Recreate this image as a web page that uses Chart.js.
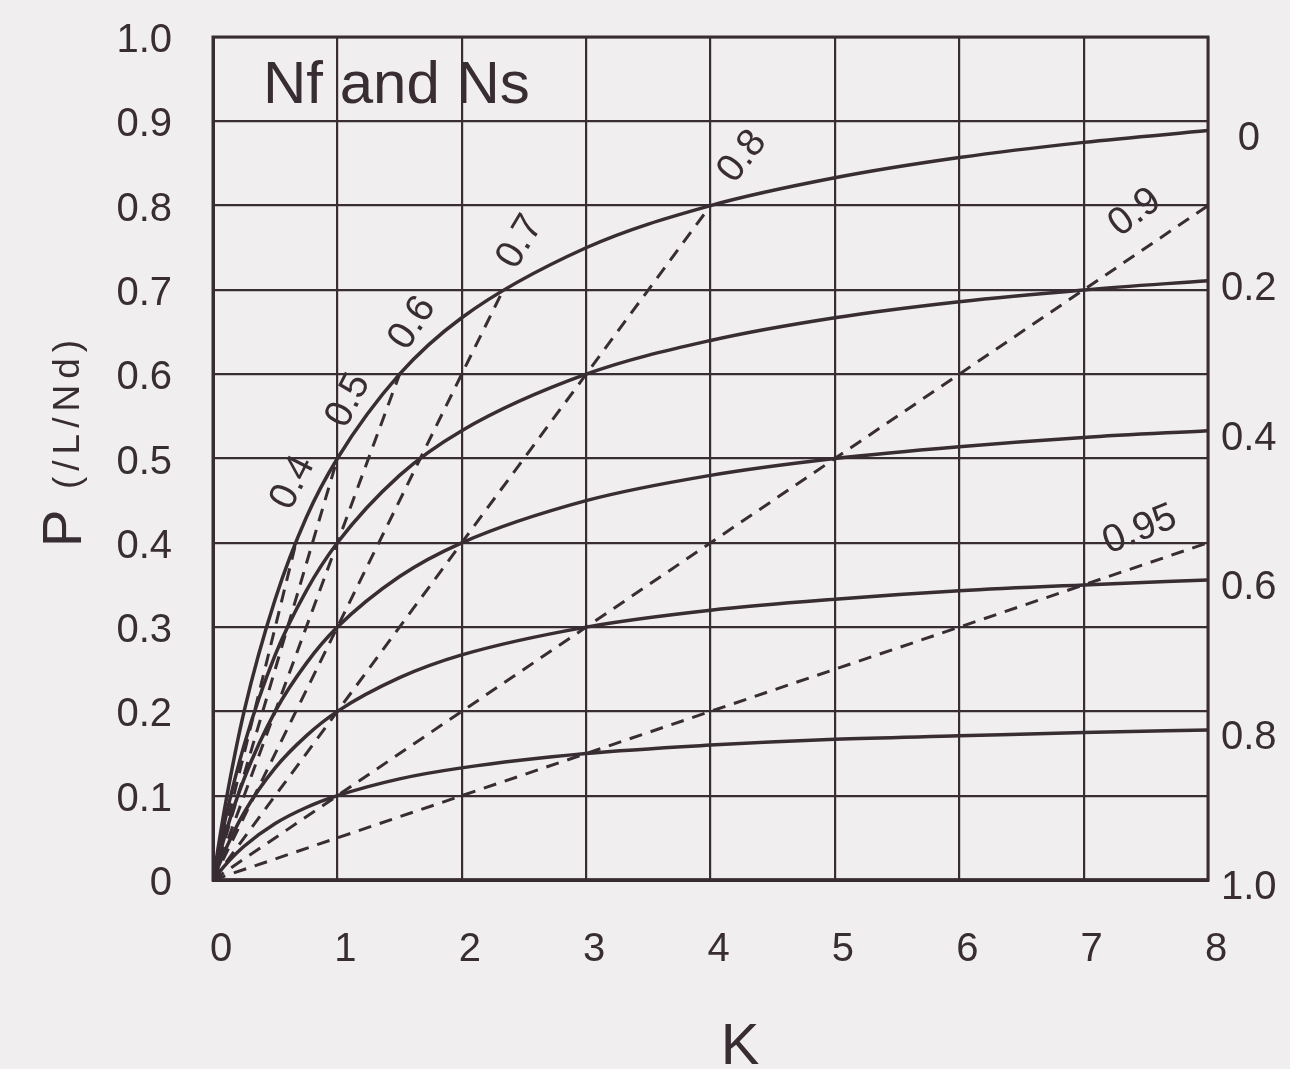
<!DOCTYPE html>
<html>
<head>
<meta charset="utf-8">
<script src="https://cdn.jsdelivr.net/npm/chart.js@4.4.1/dist/chart.umd.min.js"></script>
<style>
  html, body { margin: 0; padding: 0; background: #f0eeee; }
  #c { display: block; }
</style>
</head>
<body>
<canvas id="c" width="1290" height="1069"></canvas>
<script>
// ---------- data ----------
const kValues = [0, 0.1, 0.25, 0.5, 0.75, 1, 1.5, 2, 3, 4, 5, 6, 7, 8];

// solid curves, labelled on the right side (Ns/Nd)
const curveNames = ['0', '0.2', '0.4', '0.6', '0.8', '1.0'];
const curve0  = [0, 0.090, 0.200, 0.333, 0.430, 0.500, 0.600, 0.667, 0.750, 0.800, 0.833, 0.857, 0.875, 0.889];
const curve02 = [0, 0.073, 0.160, 0.267, 0.343, 0.400, 0.480, 0.533, 0.600, 0.640, 0.667, 0.686, 0.700, 0.711];
const curve04 = [0, 0.055, 0.120, 0.200, 0.257, 0.300, 0.360, 0.400, 0.450, 0.480, 0.500, 0.514, 0.525, 0.533];
const curve06 = [0, 0.036, 0.080, 0.133, 0.171, 0.200, 0.240, 0.267, 0.300, 0.320, 0.333, 0.343, 0.350, 0.356];
const curve08 = [0, 0.018, 0.040, 0.067, 0.086, 0.100, 0.120, 0.133, 0.150, 0.160, 0.167, 0.171, 0.175, 0.178];
const curve10 = [0, 0, 0, 0, 0, 0, 0, 0, 0, 0, 0, 0, 0, 0];
const curveValues = [curve0, curve02, curve04, curve06, curve08, curve10];

// dashed straight lines from the origin (Nf labels)
const dashNames = ['0.4', '0.5', '0.6', '0.7', '0.8', '0.9', '0.95'];
const dashEndK  = [0.667, 1, 1.5, 2.333, 4, 8, 8];
const dashEndP  = [0.4, 0.5, 0.6, 0.7, 0.8, 0.8, 0.4];

// tick labels
const xTickLabels = ['0', '1', '2', '3', '4', '5', '6', '7', '8'];
const yTickLabels = ['0', '0.1', '0.2', '0.3', '0.4', '0.5', '0.6', '0.7', '0.8', '0.9', '1.0'];

// texts
const chartTitle = 'Nf and Ns';
const xTitle = 'K';
const yTitleMain = 'P';
const yTitleUnit = '(/L/Nd)';

// ---------- styles ----------
const BG = '#f0eeee';
const INK = '#382d32';
const FONT = "'Liberation Sans', Arial, Helvetica, sans-serif";
// label placement for dashed-line names (pixel offset from line end, rotation deg)
const dashLabelStyle = [
  { dx: -3, dy: -60, rot: -63 },
  { dx: 11, dy: -58, rot: -63 },
  { dx: 13, dy: -51, rot: -57 },
  { dx: 17, dy: -48, rot: -59 },
  { dx: 32, dy: -49, rot: -52 },
  { dx: -73, dy: 7, rot: -37 },
  { dx: -68, dy: -13, rot: -22 }
];

// ---------- datasets ----------
const datasets = [];
curveValues.forEach((arr, i) => {
  datasets.push({
    label: 'Ns/Nd = ' + curveNames[i],
    data: kValues.map((k, j) => ({ x: k, y: arr[j] })),
    borderColor: INK,
    borderWidth: 3.5,
    pointRadius: 0,
    cubicInterpolationMode: 'monotone',
    fill: false
  });
});
dashNames.forEach((n, i) => {
  datasets.push({
    label: 'Nf = ' + n,
    data: [{ x: 0, y: 0 }, { x: dashEndK[i], y: dashEndP[i] }],
    borderColor: INK,
    borderWidth: 3,
    borderDash: [13, 9],
    pointRadius: 0,
    tension: 0,
    fill: false
  });
});

// ---------- plugins ----------
const bgPlugin = {
  id: 'bg',
  beforeDraw(chart) {
    const c = chart.ctx;
    c.save();
    c.fillStyle = BG;
    c.fillRect(0, 0, chart.width, chart.height);
    c.restore();
  }
};

const annotPlugin = {
  id: 'annot',
  afterDatasetsDraw(chart) {
    const c = chart.ctx;
    const a = chart.chartArea;
    const xs = chart.scales.x, ys = chart.scales.y;
    c.save();
    // frame
    c.strokeStyle = INK;
    c.lineWidth = 3;
    c.strokeRect(a.left, a.top, a.right - a.left, a.bottom - a.top);

    c.fillStyle = INK;
    // title inside plot
    c.font = '60px ' + FONT;
    c.textAlign = 'left';
    c.textBaseline = 'alphabetic';
    c.fillText(chartTitle, 263, 103);

    // dashed line labels
    c.font = '39px ' + FONT;
    c.textAlign = 'center';
    c.textBaseline = 'middle';
    dashNames.forEach((n, i) => {
      const px = xs.getPixelForValue(dashEndK[i]) + dashLabelStyle[i].dx;
      const py = ys.getPixelForValue(dashEndP[i]) + dashLabelStyle[i].dy;
      c.save();
      c.translate(px, py);
      c.rotate(dashLabelStyle[i].rot * Math.PI / 180);
      c.fillText(n, 0, 0);
      c.restore();
    });

    // x axis title
    c.font = '58px ' + FONT;
    c.textAlign = 'center';
    c.textBaseline = 'alphabetic';
    c.fillText(xTitle, 740, 1064);

    // y axis title (rotated)
    c.save();
    c.translate(81, 547);
    c.rotate(-Math.PI / 2);
    c.textAlign = 'left';
    c.textBaseline = 'alphabetic';
    c.font = '56px ' + FONT;
    c.fillText(yTitleMain, 0, 0);
    c.font = '37px ' + FONT;
    try { c.letterSpacing = '6px'; } catch (e) {}
    c.fillText(yTitleUnit, 58, -2);
    c.restore();

    c.restore();
  }
};

// ---------- chart ----------
new Chart(document.getElementById('c'), {
  type: 'line',
  data: { datasets },
  plugins: [bgPlugin, annotPlugin],
  options: {
    responsive: false,
    animation: false,
    devicePixelRatio: 1,
    layout: { padding: { top: 37, left: 0, right: 0, bottom: 0 } },
    plugins: { legend: { display: false }, tooltip: { enabled: false } },
    scales: {
      x: {
        type: 'linear',
        min: 0, max: 8,
        afterFit: s => { s.height = 189; s.paddingLeft = 0; s.paddingRight = 0; },
        ticks: {
          stepSize: 1,
          autoSkip: false,
          maxRotation: 0,
          padding: 46,
          labelOffset: 8,
          color: INK,
          font: { family: FONT, size: 40 },
          callback: (v) => xTickLabels[Math.round(v)]
        },
        grid: { color: INK, lineWidth: 2.2, drawTicks: false },
        border: { color: INK, width: 3 }
      },
      y: {
        type: 'linear',
        min: 0, max: 1,
        afterFit: s => { s.width = 213; s.paddingTop = 0; s.paddingBottom = 0; },
        afterBuildTicks: s => { s.ticks = yTickLabels.map((t, i) => ({ value: i / 10 })); },
        ticks: {
          padding: 41,
          labelOffset: 4,
          color: INK,
          font: { family: FONT, size: 40 },
          callback: (v, i) => yTickLabels[i]
        },
        grid: { color: INK, lineWidth: 2.2, drawTicks: false },
        border: { color: INK, width: 3 }
      },
      yR: {
        type: 'linear',
        position: 'right',
        min: 0, max: 1,
        afterFit: s => { s.width = 82; s.paddingTop = 0; s.paddingBottom = 0; },
        afterBuildTicks: s => { s.ticks = curveValues.map(arr => ({ value: arr[arr.length - 1] })); },
        ticks: {
          padding: 13,
          crossAlign: 'center',
          labelOffset: 8,
          color: INK,
          font: { family: FONT, size: 40 },
          callback: (v, i) => curveNames[i]
        },
        grid: { display: false, drawTicks: false },
        border: { display: false }
      }
    }
  }
});
</script>
</body>
</html>
